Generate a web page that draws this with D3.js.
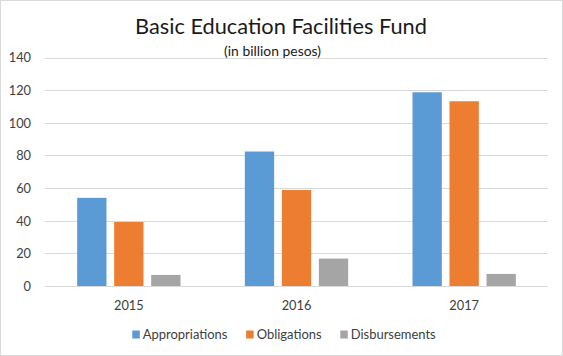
<!DOCTYPE html>
<html><head><meta charset="utf-8">
<script src="https://cdn.jsdelivr.net/npm/d3@7"></script>
<style>
html,body{margin:0;padding:0;background:#fff;}
svg{display:block;font-family:Lato,"Open Sans",sans-serif;}
</style></head>
<body>
<svg id="chart" width="563" height="356"></svg>
<script>
const years = ["2015", "2016", "2017"];
const seriesNames = ["Appropriations", "Obligations", "Disbursements"];
const appropriations = [54, 82.4, 118.7];
const obligations = [39.2, 58.8, 113.2];
const disbursements = [6.8, 16.8, 7.4];
const yTicks = [0, 20, 40, 60, 80, 100, 120, 140];
const colors = ["#5B9BD5", "#ED7D31", "#A5A5A5"];
const titleText = "Basic Education Facilities Fund";
const subtitleText = "(in billion pesos)";

const seriesValues = [appropriations, obligations, disbursements];
const W = 563, H = 356;
const svg = d3.select("#chart");

svg.append("rect").attr("x", 0.5).attr("y", 0.5).attr("width", W - 1).attr("height", H - 1)
  .attr("fill", "#fff").attr("stroke", "#d9d9d9");

const plot = {left: 45, right: 548, top: 57.5, bottom: 286};

const y = d3.scaleLinear().domain([0, 140]).range([plot.bottom, plot.top]);
const x0 = d3.scaleBand().domain(years).range([plot.left, plot.right]).padding(0);
const x1 = d3.scaleBand().domain(seriesNames).range([0, x0.bandwidth()])
  .paddingInner(0.208).paddingOuter(0.869);

function fitSize(text, base, target) {
  const tmp = svg.append("text").attr("font-size", base).text(text);
  const w = tmp.node().getComputedTextLength();
  tmp.remove();
  return +(base * target / w).toFixed(2);
}
const labelSize = fitSize("2015", 13.5, 29.7);
const legendSize = fitSize("Appropriations", 13.5, 84.7);

// gridlines
svg.append("g").selectAll("line").data(yTicks).join("line")
  .attr("x1", plot.left).attr("x2", plot.right)
  .attr("y1", d => Math.round(y(d)) + 0.5).attr("y2", d => Math.round(y(d)) + 0.5)
  .attr("stroke", "#d9d9d9").attr("stroke-width", 1);

// y axis labels
const yAxis = d3.axisLeft(y).tickValues(yTicks).tickSize(0).tickPadding(0);
const gy = svg.append("g").attr("transform", `translate(31,0)`).call(yAxis);
gy.select(".domain").remove();
gy.selectAll("text").attr("font-size", labelSize).attr("fill", "#404040")
  .attr("font-family", "Lato,'Open Sans',sans-serif").attr("dy", "0.35em");

// bars
const groups = svg.append("g").selectAll("g").data(years).join("g")
  .attr("transform", d => `translate(${x0(d)},0)`);
groups.selectAll("rect").data((d, i) => seriesNames.map((s, j) => ({s, v: seriesValues[j][i], j})))
  .join("rect")
  .attr("x", d => x1(d.s)).attr("width", x1.bandwidth())
  .attr("y", d => y(d.v)).attr("height", d => y(0) - y(d.v))
  .attr("fill", d => colors[d.j]);

// x axis labels
const xAxis = d3.axisBottom(x0).tickSize(0).tickPadding(0);
const gx = svg.append("g").attr("transform", `translate(0,${plot.bottom})`).call(xAxis);
gx.select(".domain").remove();
gx.selectAll("text").attr("font-size", labelSize).attr("fill", "#404040")
  .attr("font-family", "Lato,'Open Sans',sans-serif").attr("dy", null).attr("y", 24);

// title
svg.append("text").attr("x", 281).attr("y", 33.5).attr("text-anchor", "middle")
  .attr("font-size", fitSize(titleText, 24, 292)).attr("fill", "#1a1a1a").text(titleText);
svg.append("text").attr("x", 272.5).attr("y", 56).attr("text-anchor", "middle")
  .attr("font-size", fitSize(subtitleText, 12, 97)).attr("fill", "#1a1a1a").text(subtitleText);

// legend
const legend = svg.append("g");
let lx = 0;
seriesNames.forEach((s, i) => {
  const g = legend.append("g").attr("transform", `translate(${lx},0)`);
  g.append("rect").attr("x", 0).attr("y", -8).attr("width", 7.5).attr("height", 8).attr("fill", colors[i]);
  const tx = g.append("text").attr("x", 10.5).attr("y", 0).attr("font-size", legendSize).attr("fill", "#404040").text(s);
  const w = tx.node().getComputedTextLength();
  lx += 10.5 + w + 18.7;
});
const lw = lx - 18.7;
legend.attr("transform", `translate(${284 - lw / 2},338.5)`);
</script>
</body></html>
